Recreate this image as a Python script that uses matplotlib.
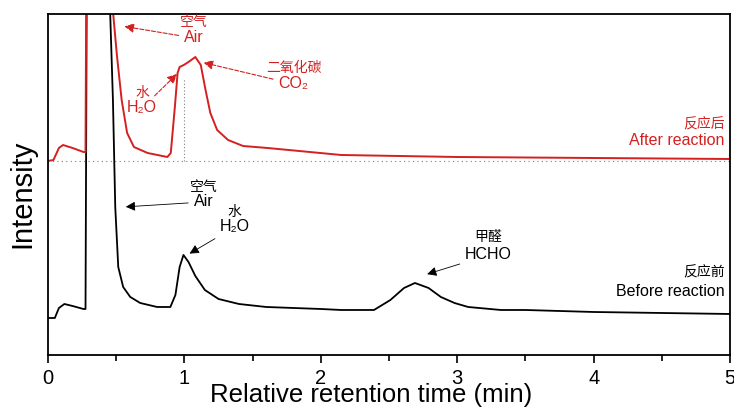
import matplotlib.pyplot as plt
from matplotlib.ticker import MultipleLocator

plt.rcParams['font.family'] = ['Liberation Sans', 'Noto Sans CJK SC', 'DejaVu Sans']

# 反应前 (黑线)
t_before = [0, 0.05, 0.08, 0.12, 0.18, 0.26, 0.275, 0.285, 0.30, 0.44, 0.456, 0.476, 0.493,
            0.515, 0.551, 0.603, 0.676, 0.80, 0.897, 0.934, 0.965, 0.993, 1.03, 1.08, 1.15,
            1.25, 1.40, 1.60, 2.00, 2.15, 2.39, 2.51, 2.61, 2.69, 2.79, 2.88, 2.98,
            3.08, 3.32, 3.50, 4.00, 4.50, 5.00]
i_before = [37, 37, 47, 51, 49, 46, 46, 400, 700, 700, 341, 255, 148,
            88, 68, 58, 52, 48, 48, 60, 88, 100, 93, 79, 65,
            56, 51, 48, 46, 45, 45, 55, 67, 72, 67, 58, 52,
            48, 45, 45, 43, 42, 41]

# 反应后 (红线)
t_after = [0, 0.04, 0.08, 0.11, 0.18, 0.26, 0.275, 0.285, 0.30, 0.46, 0.478, 0.505, 0.54,
           0.58, 0.63, 0.73, 0.875, 0.90, 0.93, 0.95, 0.965, 0.995, 1.03, 1.08, 1.12,
           1.155, 1.19, 1.24, 1.32, 1.43, 1.61, 2.15, 3.00, 4.00, 5.00]
i_after = [194, 195, 207, 210, 207, 203, 203, 500, 700, 700, 341, 300, 255,
           222, 208, 202, 198, 202, 248, 282, 288, 290, 293, 298, 290,
           265, 242, 225, 215, 209, 207, 200, 198, 197, 196]

base_after = 194

plt.figure(figsize=(7.34, 4.07), dpi=100)
ax = plt.axes([0.0654, 0.1278, 0.9292, 0.8378])

ax.plot(t_before, i_before, color='black', lw=1.3)
ax.plot(t_after, i_after, color='#d42020', lw=1.4)

# 参考虚线
ax.plot([0, 5], [base_after, base_after], ls=(0, (1, 3)), color='#c06060', lw=0.8)
ax.plot([1.0, 1.0], [base_after, 277], ls=(0, (1, 2)), color='gray', lw=0.8)

red = '#d42020'
red_arrow = dict(arrowstyle='-|>', color=red, ls='--', lw=0.8, mutation_scale=14)
blk_arrow = dict(arrowstyle='-|>', color='black', lw=0.6, mutation_scale=14)

# 红色标注
ax.text(1.07, 333, '空气', color=red, fontsize=10, ha='center', va='center')
ax.annotate('Air', xy=(0.54, 329), xytext=(1.07, 317), color=red, fontsize=11.5,
            ha='center', va='center', arrowprops=red_arrow)
ax.text(0.69, 262, '水', color=red, fontsize=10, ha='center', va='center')
ax.annotate('H₂O', xy=(0.96, 283), xytext=(0.69, 247), color=red, fontsize=11.5,
            ha='center', va='center', arrowprops=red_arrow)
ax.text(1.80, 287, '二氧化碳', color=red, fontsize=10, ha='center', va='center')
ax.annotate('CO₂', xy=(1.12, 293), xytext=(1.80, 271), color=red, fontsize=11.5,
            ha='center', va='center', arrowprops=red_arrow)
ax.text(4.96, 231, '反应后', color=red, fontsize=10, ha='right', va='center')
ax.text(4.96, 214, 'After reaction', color=red, fontsize=11.5, ha='right', va='center')

# 黑色标注
ax.text(1.14, 168, '空气', color='black', fontsize=10, ha='center', va='center')
ax.annotate('Air', xy=(0.55, 148), xytext=(1.14, 153), fontsize=11.5,
            ha='center', va='center', arrowprops=blk_arrow)
ax.text(1.37, 143, '水', color='black', fontsize=10, ha='center', va='center')
ax.annotate('H₂O', xy=(1.02, 100), xytext=(1.37, 128), fontsize=11.5,
            ha='center', va='center', arrowprops=blk_arrow)
ax.text(3.23, 118, '甲醛', color='black', fontsize=10, ha='center', va='center')
ax.annotate('HCHO', xy=(2.76, 80), xytext=(3.23, 100), fontsize=11.5,
            ha='center', va='center', arrowprops=blk_arrow)
ax.text(4.96, 83, '反应前', color='black', fontsize=10, ha='right', va='center')
ax.text(4.96, 63, 'Before reaction', color='black', fontsize=11.5, ha='right', va='center')

ax.set_xlim(0, 5)
ax.set_ylim(0, 341)
ax.set_yticks([])
ax.xaxis.set_major_locator(MultipleLocator(1))
ax.xaxis.set_minor_locator(MultipleLocator(0.5))
ax.tick_params(axis='x', which='major', length=6, width=1.2, labelsize=14.5, pad=4)
ax.tick_params(axis='x', which='minor', length=4, width=1.2)
for s in ax.spines.values():
    s.set_linewidth(1.3)

ax.set_xlabel('Relative retention time (min)', fontsize=18.5)
ax.xaxis.set_label_coords(0.474, -0.083)
ax.set_ylabel('Intensity', fontsize=21)
ax.yaxis.label.set_va('center')
ax.yaxis.set_label_coords(-0.038, 0.472)

plt.savefig('out.png', dpi=100)
